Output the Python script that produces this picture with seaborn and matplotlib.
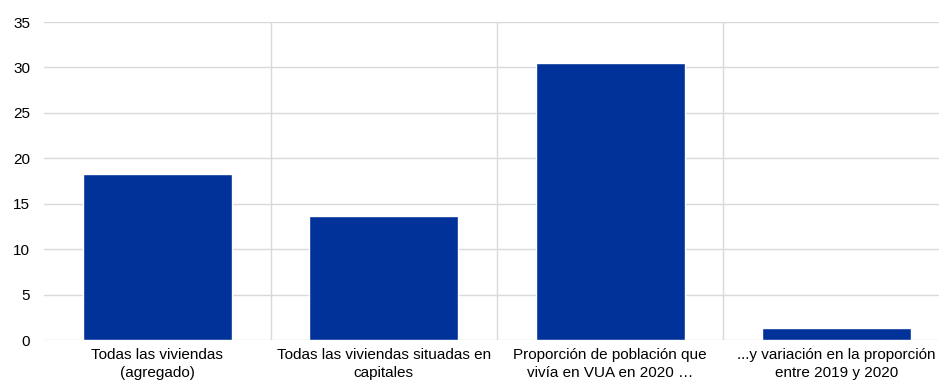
import numpy as np
import pandas as pd
import matplotlib.pyplot as plt
import seaborn as sns

categories = [
    "Todas las viviendas\n(agregado)",
    "Todas las viviendas situadas en\ncapitales",
    "Proporción de población que\nvivía en VUA en 2020 …",
    "...y variación en la proporción\nentre 2019 y 2020",
]
values = [18.3, 13.7, 30.5, 1.3]

df = pd.DataFrame({"cat": categories, "val": values})

sns.set_style("white")
plt.rcParams["font.family"] = ["Liberation Sans", "DejaVu Sans"]

fig = plt.figure(figsize=(9.39, 3.83), dpi=100)
# axes extends slightly past the right edge like the original
ax = fig.add_axes([44 / 939, (383 - 340) / 383, (950 - 44) / 939, (340 - 22) / 383])

sns.barplot(data=df, x="cat", y="val", color="#003299", saturation=1,
            width=0.66, ax=ax, zorder=3)

ax.set_ylim(0, 35)
ax.set_yticks(np.arange(0, 36, 5))
ax.set_xlim(-0.5, len(categories) - 0.5)
ax.set_xticks(np.arange(0.5, len(categories) - 0.5), minor=True)
ax.grid(axis="y", which="major", color="#d9d9d9", linewidth=1, zorder=0)
ax.grid(axis="x", which="minor", color="#d9d9d9", linewidth=1, zorder=0)
ax.grid(axis="x", which="major", visible=False)
for s in ax.spines.values():
    s.set_visible(False)
ax.tick_params(axis="both", which="both", length=0, labelsize=11, colors="black")
ax.tick_params(axis="y", pad=10)
ax.tick_params(axis="x", pad=6)
ax.set_xlabel("")
ax.set_ylabel("")
for lbl in ax.get_xticklabels():
    lbl.set_linespacing(1.3)

fig.savefig("out.png", dpi=100)
